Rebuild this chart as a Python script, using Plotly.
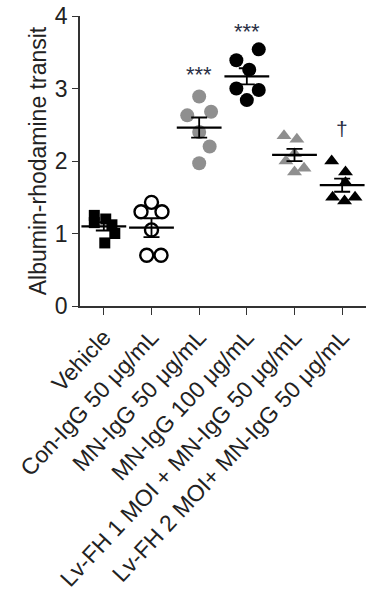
import numpy as np
import plotly.graph_objects as go

categories = ["Vehicle", "Con-IgG 50 μg/mL", "MN-IgG 50 μg/mL", "MN-IgG 100 μg/mL",
              "Lv-FH 1 MOI + MN-IgG 50 μg/mL", "Lv-FH 2 MOI+ MN-IgG 50 μg/mL"]
vehicle = [1.25, 1.20, 1.12, 1.15, 1.00, 0.87]
con_igg = [1.30, 1.43, 1.30, 1.05, 0.70, 0.70]
mn_igg50 = [2.89, 2.63, 2.68, 2.40, 2.20, 1.97]
mn_igg100 = [3.54, 3.39, 3.26, 3.00, 2.98, 2.84]
lvfh1 = [2.35, 2.30, 2.10, 2.00, 1.90, 1.85]
lvfh2 = [2.00, 1.85, 1.70, 1.50, 1.50, 1.45]
series = [vehicle, con_igg, mn_igg50, mn_igg100, lvfh1, lvfh2]
sig_labels = ["", "", "***", "***", "", "†"]
sig_y = [None, None, 3.19, 3.78, None, 2.45]

# style
jitter = [[-0.2, 0.04, 0.17, -0.2, 0.23, 0.02],
          [-0.22, 0.0, 0.22, 0.0, -0.1, 0.2],
          [0.0, -0.25, 0.25, 0.0, 0.22, 0.0],
          [0.25, -0.22, 0.05, -0.22, 0.25, 0.0],
          [-0.22, 0.05, 0.0, -0.18, 0.2, 0.0],
          [-0.22, 0.07, 0.07, -0.2, 0.27, 0.05]]
symbols = ["square", "circle-open", "circle", "circle", "triangle-up", "triangle-up"]
colors = ["#000000", "#000000", "#8f8f8f", "#000000", "#8f8f8f", "#000000"]
sizes = [11, 13, 14, 14, 13, 13]

fig = go.Figure()
for i, vals in enumerate(series):
    xs = [i + j for j in jitter[i]]
    fig.add_trace(go.Scatter(
        x=xs, y=vals, mode="markers",
        marker=dict(symbol=symbols[i], color=colors[i], size=sizes[i],
                    line=dict(color=colors[i], width=2.4 if symbols[i] == "circle-open" else 0)),
        showlegend=False, hoverinfo="skip"))
    m = float(np.mean(vals))
    sem = float(np.std(vals, ddof=1) / np.sqrt(len(vals)))
    fig.add_trace(go.Scatter(
        x=[i], y=[m], mode="markers",
        marker=dict(symbol="line-ew-open", size=32, color="#000000",
                    line=dict(color="#000000", width=2.2)),
        error_y=dict(type="data", array=[sem], visible=True, color="#000000",
                     thickness=1.8, width=8),
        showlegend=False, hoverinfo="skip"))
    if sig_labels[i]:
        fig.add_annotation(x=i, y=sig_y[i], text=sig_labels[i], showarrow=False,
                           font=dict(size=22 if sig_labels[i] == "***" else 21,
                                     color="#2a2f45", family="Liberation Sans"),
                           yanchor="middle")

fig.update_layout(
    width=366, height=614,
    margin=dict(l=80, r=0, t=16, b=308),
    plot_bgcolor="white", paper_bgcolor="white",
    font=dict(family="Liberation Sans, Arial, sans-serif", color="#222222"),
)
fig.update_xaxes(
    range=[-0.5, 5.5], tickmode="array", tickvals=list(range(6)), ticktext=categories,
    tickangle=-47, tickfont=dict(size=23), showline=True, linecolor="#333333",
    linewidth=1.5, ticks="outside", ticklen=7, tickcolor="#333333", showgrid=False,
    zeroline=False)
fig.update_yaxes(
    range=[0, 4], tickvals=[0, 1, 2, 3, 4], tickfont=dict(size=23), showline=True,
    linecolor="#333333", linewidth=1.5, ticks="outside", ticklen=6, tickcolor="#333333",
    showgrid=False, zeroline=False,
    title=dict(text="Albumin-rhodamine transit", font=dict(size=23), standoff=2))

fig.write_html("out.html")
